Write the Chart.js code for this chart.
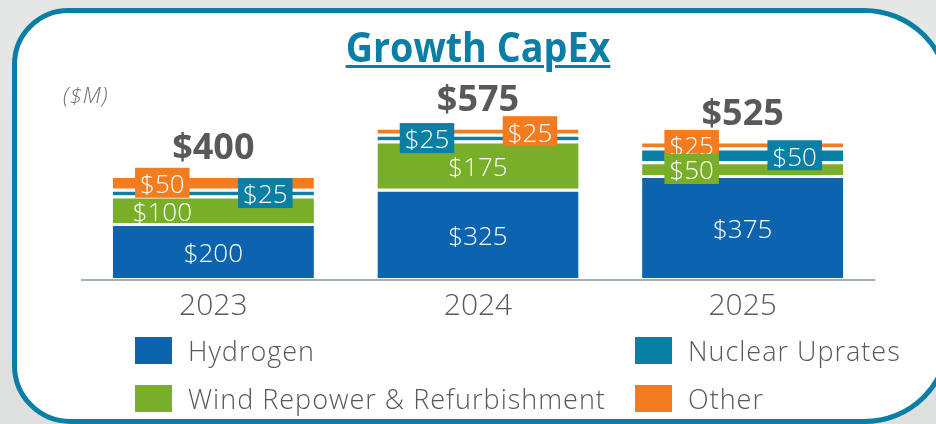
<!DOCTYPE html>
<html>
<head>
<meta charset="utf-8">
<script src="https://cdn.jsdelivr.net/npm/chart.js@4/dist/chart.umd.min.js"></script>
<style>
  html, body { margin: 0; padding: 0; }
  body {
    width: 936px; height: 424px; overflow: hidden; position: relative;
    background: linear-gradient(180deg, #e6e8e8 0%, #dedfdf 100%);
    font-family: "Open Sans", "DejaVu Sans", sans-serif;
  }
  #title {
    position: absolute; left: 0; width: 956px; top: 18px; text-align: center;
    font-weight: bold; font-size: 41px; color: #0a7ea4;
    transform: scaleX(0.92); transform-origin: 478px 0;
    text-decoration: underline; text-decoration-thickness: 3px; text-underline-offset: 3px;
  }
  #unit {
    position: absolute; left: 63px; top: 79px; font-size: 22px; font-style: italic;
    font-weight: 300; color: #6d6d6d; letter-spacing: 1px;
  }
  #chart { position: absolute; left: 0; top: 0; }
  .lg { position: absolute; font-size: 27px; font-weight: 300; color: #595959; line-height: 30px; letter-spacing: 1px; }
  .lg span {
    position: absolute; left: -53px; top: 1px; width: 37px; height: 27px;
  }
</style>
</head>
<body>
<canvas id="chart" width="936" height="424"></canvas>
<div id="title">Growth CapEx</div>
<div id="unit">($M)</div>
<div id="legend"></div>
<script>
var years = ['2023', '2024', '2025'];
var hydrogen = [200, 325, 375];
var wind = [100, 175, 50];
var nuclear = [25, 25, 50];
var other = [50, 25, 25];
var totals = [400, 575, 525];

var seriesNames = ['Hydrogen', 'Wind Repower & Refurbishment', 'Nuclear Uprates', 'Other'];
var colors = ['#0c64ae', '#78ae28', '#0a7fa4', '#f47c20'];

// where each segment label sits: c = centre, l / r = shifted left / right
var labelSide = [
    ['c', 'c', 'c'],
    ['l', 'c', 'l'],
    ['r', 'l', 'r'],
    ['l', 'r', 'l']
];

// legend, two columns
var legendPos = [[188, 336, 0], [688, 336, 2], [188, 384, 1], [688, 384, 3]];
var lgHtml = '';
legendPos.forEach(function (p) {
    lgHtml += '<div class="lg" style="left:' + p[0] + 'px;top:' + p[1] + 'px">' +
        '<span style="background:' + colors[p[2]] + '"></span>' + seriesNames[p[2]].replace('&', '&amp;') + '</div>';
});
document.getElementById('legend').innerHTML = lgHtml;

// white rounded panel with teal outline behind the chart
var framePlugin = {
    id: 'frame',
    beforeDraw: function (chart) {
        var ctx = chart.ctx;
        ctx.save();
        ctx.beginPath();
        ctx.roundRect(14.5, 10.5, 934, 411, [54, 84, 84, 56]);
        ctx.fillStyle = '#ffffff';
        ctx.fill();
        ctx.lineWidth = 5;
        ctx.strokeStyle = '#0a7ea4';
        ctx.stroke();
        ctx.restore();
    }
};

var labelPlugin = {
    id: 'labels',
    afterDatasetsDraw: function (chart) {
        var ctx = chart.ctx;
        var xs = chart.scales.x, ys = chart.scales.y;
        var base = ys.getPixelForValue(0);
        ctx.save();
        // axis line
        ctx.strokeStyle = '#a3adb5';
        ctx.lineWidth = 2;
        ctx.beginPath();
        ctx.moveTo(chart.chartArea.left, base + 2);
        ctx.lineTo(chart.chartArea.right, base + 2);
        ctx.stroke();

        ctx.textAlign = 'center';
        ctx.textBaseline = 'middle';
        // category labels + totals
        for (var i = 0; i < years.length; i++) {
            var cx = xs.getPixelForValue(i);
            ctx.fillStyle = '#595959';
            ctx.font = '300 30px "Open Sans"';
            ctx.fillText(years[i], cx, base + 28);
            ctx.font = 'bold 36px "Open Sans"';
            ctx.fillText('$' + totals[i], cx, ys.getPixelForValue(totals[i]) - 19);
        }
        // segment labels, top series first so lower boxes overlap
        ctx.font = '300 26px "Open Sans"';
        for (var d = chart.data.datasets.length - 1; d >= 0; d--) {
            var meta = chart.getDatasetMeta(d);
            meta.data.forEach(function (bar, j) {
                var val = chart.data.datasets[d].data[j];
                var top = bar.y, bot = bar.base;
                var h = bot - top;
                var side = labelSide[d][j];
                var x = bar.x + (side === 'l' ? -51 : side === 'r' ? 52 : 0);
                var y = (top + bot) / 2 + 1;
                var txt = '$' + val;
                if (h < 20) {
                    var w = ctx.measureText(txt).width + 10;
                    ctx.fillStyle = colors[d];
                    ctx.fillRect(x - w / 2, y - 15, w, 30);
                }
                ctx.fillStyle = '#fff';
                ctx.fillText(txt, x, y + 3);
            });
        }
        ctx.restore();
    }
};

new Chart(document.getElementById('chart').getContext('2d'), {
    type: 'bar',
    data: {
        labels: years,
        datasets: [
            { label: seriesNames[0], data: hydrogen, backgroundColor: colors[0] },
            { label: seriesNames[1], data: wind, backgroundColor: colors[1] },
            { label: seriesNames[2], data: nuclear, backgroundColor: colors[2] },
            { label: seriesNames[3], data: other, backgroundColor: colors[3] }
        ]
    },
    options: {
        responsive: false,
        animation: false,
        layout: { padding: { left: 81, right: 61, top: 124, bottom: 146 } },
        datasets: {
            bar: {
                barPercentage: 0.76,
                categoryPercentage: 1,
                borderColor: '#ffffff',
                borderWidth: { top: 3, left: 0, right: 0, bottom: 0 },
                borderSkipped: false
            }
        },
        scales: {
            x: { stacked: true, display: false },
            y: { stacked: true, display: false, min: 0, max: 560 }
        },
        plugins: {
            legend: { display: false },
            tooltip: { enabled: false }
        }
    },
    plugins: [framePlugin, labelPlugin]
});
</script>
</body>
</html>
